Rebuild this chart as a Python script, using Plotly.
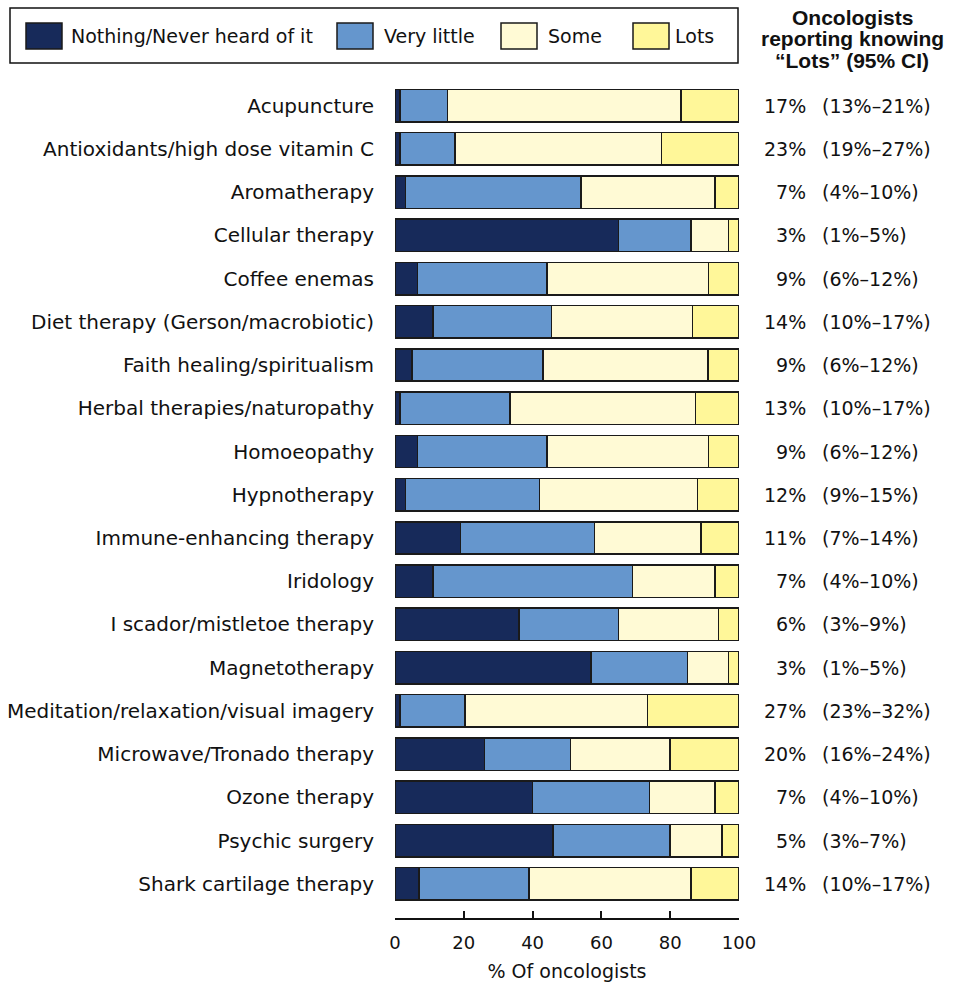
import plotly.graph_objects as go

categories = [
    "Acupuncture",
    "Antioxidants/high dose vitamin C",
    "Aromatherapy",
    "Cellular therapy",
    "Coffee enemas",
    "Diet therapy (Gerson/macrobiotic)",
    "Faith healing/spiritualism",
    "Herbal therapies/naturopathy",
    "Homoeopathy",
    "Hypnotherapy",
    "Immune-enhancing therapy",
    "Iridology",
    "I scador/mistletoe therapy",
    "Magnetotherapy",
    "Meditation/relaxation/visual imagery",
    "Microwave/Tronado therapy",
    "Ozone therapy",
    "Psychic surgery",
    "Shark cartilage therapy",
]

series_names = ["Nothing/Never heard of it", "Very little", "Some", "Lots"]
nothing = [1.4, 1.4, 3, 65, 6.5, 11, 5, 1.4, 6.5, 3, 19, 11, 36, 57, 1.4, 26, 40, 46, 7]
very_little = [13.9, 16, 51, 21, 37.7, 34.5, 38, 32, 37.7, 39, 39, 58, 29, 28, 19, 25, 34, 34, 32]
some = [67.9, 60, 39, 11, 47, 41, 48, 54, 47, 46, 31, 24, 29, 12, 53, 29, 19, 15, 47]
lots = [16.8, 22.6, 7, 3.0, 8.8, 13.5, 9.0, 12.6, 8.8, 12.0, 11, 7, 6.0, 3.0, 26.6, 20.0, 7.0, 5.0, 14.0]

lots_pct = ["17%", "23%", "7%", "3%", "9%", "14%", "9%", "13%", "9%", "12%",
            "11%", "7%", "6%", "3%", "27%", "20%", "7%", "5%", "14%"]
lots_ci = ["(13%–21%)", "(19%–27%)", "(4%–10%)", "(1%–5%)", "(6%–12%)", "(10%–17%)",
           "(6%–12%)", "(10%–17%)", "(6%–12%)", "(9%–15%)", "(7%–14%)", "(4%–10%)",
           "(3%–9%)", "(1%–5%)", "(23%–32%)", "(16%–24%)", "(4%–10%)", "(3%–7%)", "(10%–17%)"]

x_ticks = [0, 20, 40, 60, 80, 100]
header_lines = ["Oncologists", "reporting knowing", "“Lots” (95% CI)"]
x_title = "% Of oncologists"

colors = ["#172a5a", "#6596cd", "#fffad5", "#fff799"]
FONT = "DejaVu Sans, Verdana, sans-serif"
TXT = "#111111"

W, H = 955, 985
L, R, T, B = 395, 739, 84, 918


def px2x(x):
    return (x - L) / (R - L)


def px2y(y):
    return (B - y) / (B - T)


fig = go.Figure()
for name, vals, col in zip(series_names, [nothing, very_little, some, lots], colors):
    fig.add_trace(go.Bar(
        y=categories, x=vals, name=name, orientation="h",
        marker=dict(color=col, line=dict(color="#1a1a1a", width=1.5)),
        cliponaxis=False, showlegend=False,
    ))

annotations = []
for cat, p, ci in zip(categories, lots_pct, lots_ci):
    annotations.append(dict(x=px2x(808), y=cat, xref="paper", yref="y", text=p,
                            showarrow=False, xanchor="right", yanchor="middle",
                            font=dict(family=FONT, size=19, color=TXT)))
    annotations.append(dict(x=px2x(820), y=cat, xref="paper", yref="y", text=ci,
                            showarrow=False, xanchor="left", yanchor="middle",
                            font=dict(family=FONT, size=19, color=TXT)))

for i, line in enumerate(header_lines):
    annotations.append(dict(x=px2x(852), y=px2y(17 + 22 * i), xref="paper", yref="paper",
                            text="<b>%s</b>" % line, showarrow=False,
                            xanchor="center", yanchor="middle",
                            font=dict(family="Liberation Sans, Arial, sans-serif", size=21, color=TXT)))

shapes = [dict(type="rect", xref="paper", yref="paper",
               x0=px2x(10), x1=px2x(738), y0=px2y(8), y1=px2y(63),
               line=dict(color="#111111", width=1.5), fillcolor="white")]
sw_x = [26, 337, 501, 633]
txt_x = [69, 382, 546, 673]
for name, col, sx, tx in zip(series_names, colors, sw_x, txt_x):
    shapes.append(dict(type="rect", xref="paper", yref="paper",
                       x0=px2x(sx), x1=px2x(sx + 36), y0=px2y(23), y1=px2y(49),
                       line=dict(color="#1a1a1a", width=1.5), fillcolor=col))
    annotations.append(dict(x=px2x(tx), y=px2y(36), xref="paper", yref="paper",
                            text=name, showarrow=False, xanchor="left", yanchor="middle",
                            font=dict(family=FONT, size=19, color=TXT)))

fig.update_layout(
    width=W, height=H,
    margin=dict(l=L, r=W - R, t=T, b=H - B, pad=0, autoexpand=False),
    paper_bgcolor="white", plot_bgcolor="white",
    barmode="stack", bargap=0.25,
    showlegend=False,
    font=dict(family=FONT, size=20, color=TXT),
    xaxis=dict(range=[0, 100], tickvals=x_ticks, ticks="inside", ticklen=7,
               tickwidth=1.5, tickcolor="#111111", showline=True, linecolor="#111111",
               linewidth=1.5, showgrid=False, zeroline=False, automargin=False,
               ticklabelstandoff=8,
               tickfont=dict(family=FONT, size=18, color=TXT),
               title=dict(text=x_title, font=dict(family=FONT, size=19, color=TXT), standoff=12)),
    yaxis=dict(categoryorder="array", categoryarray=categories, range=[18.79, -0.5],
               showgrid=False, zeroline=False, showline=False, ticks="",
               ticklabelstandoff=20, automargin=False,
               tickfont=dict(family=FONT, size=20, color=TXT)),
    annotations=annotations, shapes=shapes,
)

fig.write_html("out.html")
